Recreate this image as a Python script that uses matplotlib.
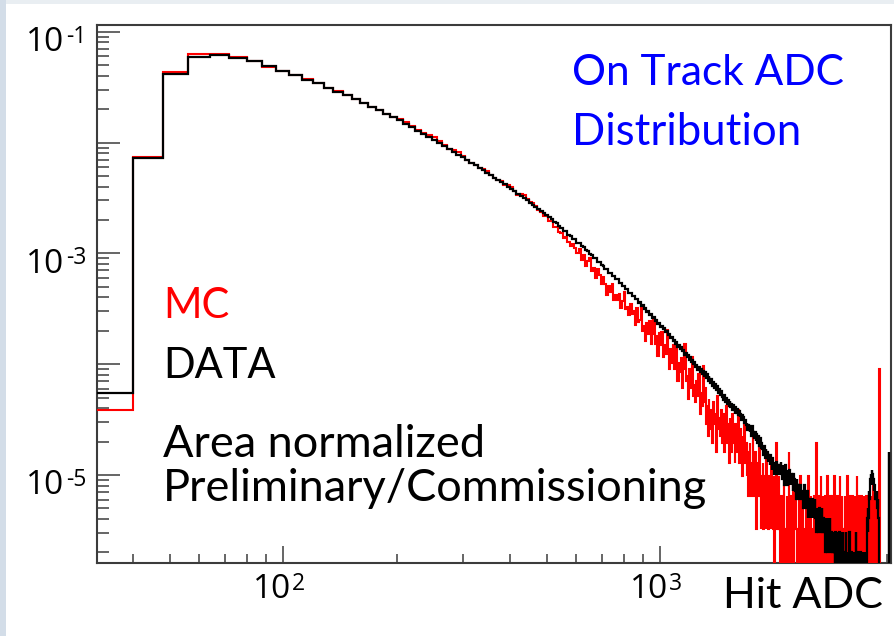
import numpy as np
import matplotlib
matplotlib.use("Agg")
import matplotlib.pyplot as plt
from matplotlib import transforms
from matplotlib.patches import Rectangle
from matplotlib.ticker import LogLocator, NullFormatter

# ---------------- histogram binning (ADC counts) ----------------
bin_start = 32
bin_width = 8
x_range = (32, 4096)

# ---------------- DATA: entries per 8-ADC bin ----------------
data_counts_peak = [
    54, 7200, 40600, 58200, 60700, 56600, 53000, 48300, 43550, 39800,
    36400, 34200, 30800, 28380, 26300, 24320, 22460, 20760, 19260, 17940,
    16740, 15590, 14490, 13500, 12620, 11820, 11090, 10420, 9760, 9160,
    8610, 8110, 7650, 7230, 6840, 6480, 6140, 5810, 5510, 5240,
    4980, 4740, 4520, 4310, 4120, 3940, 3750, 3560, 3390, 3240,
    3090, 2950, 2820, 2690, 2580, 2470, 2360, 2270, 2180, 2080,
]
data_counts_falloff = [
    2010, 1880, 1830, 1720, 1680, 1570, 1550, 1440, 1420, 1330,
    1320, 1230, 1215, 1135, 1125, 1050, 1035, 970, 960, 895,
    886, 828, 820, 765, 762, 710, 706, 660, 658, 615,
    612, 574, 572, 535, 533, 500, 498, 466, 464, 434,
    432, 404, 405, 378, 379, 352, 355, 330, 334, 309,
    314, 291, 294, 273, 278, 257, 262, 242, 246, 228,
    233, 215, 219, 203, 207, 191, 195, 179, 183, 169,
    173, 159, 164, 151, 155, 141, 146, 135, 140, 128,
    132, 120, 125, 114, 119, 108, 113, 102, 107, 98,
    103, 92, 97, 88, 93, 84, 89, 80, 85, 77,
]
data_counts_tail = [
    84, 74, 80, 70, 77, 73, 66, 72, 63, 68,
    60, 65, 57, 63, 54, 59, 52, 56, 50, 53,
    47, 52, 45, 49, 43, 47, 41, 46, 40, 43,
    38, 42, 39, 35, 40, 36, 39, 34, 37, 33,
    35, 31, 34, 30, 33, 29, 31, 28,
    29, 25, 28, 27, 24, 26, 22, 27, 23, 24,
    21, 24, 20, 23, 19, 22, 20, 18, 21, 17,
    19, 17, 18, 15, 18, 14, 17, 15, 16, 13,
    15, 14, 12, 15, 13, 11, 14, 12, 13, 10,
    12, 11, 13, 10, 11, 12, 10,
    12, 10, 13, 11, 9, 12, 10, 11, 8, 12,
    10, 9, 11, 8, 10, 9, 11, 8, 9, 10,
    8, 9, 7, 10, 8, 9, 7, 8, 6, 9,
    8, 7, 8, 6, 7, 8, 6, 7, 7, 6,
    7, 5, 8, 6, 6, 7, 5, 6, 7, 4,
    6, 5, 6, 4, 5, 6, 5, 4, 6, 5,
    4, 5, 6, 4, 5, 3, 5, 4, 5, 3,
    4, 5, 3, 4, 4, 3, 5, 3, 4, 3,
    4, 3, 3, 4, 2, 4, 3, 3, 2, 4,
    3, 2, 3, 4, 2, 3, 2, 3, 3, 2,
    3, 2, 3, 2, 1, 3, 2, 3,
    2, 3, 1, 2, 2, 0, 3, 2, 1, 2,
    3, 1, 2, 0, 2, 3, 1, 2, 1, 2,
    2, 1, 3, 0, 2, 1, 2, 1, 0, 2,
    3, 1, 1, 2, 0, 2, 1, 1, 2, 0,
    1, 2, 1, 0, 2, 1, 3, 1, 0, 1,
    2, 1, 0, 2, 1, 1, 0, 2, 1, 1,
    0, 1, 2, 0, 1, 1, 0, 2, 1, 0,
    1,
]
data_counts_endpoint = [
    1, 2, 1, 3, 2, 4, 3, 5, 4, 6,
    7, 6, 8, 9, 8, 10, 9, 11, 9, 10,
    9, 8, 9, 7, 8, 7, 8, 6, 7, 7,
    6, 7, 6, 5, 6, 5, 4,
    0, 0, 0, 0, 0, 0, 0, 0, 0, 0,
    0, 0, 0, 0, 0, 0, 0, 0, 0, 0,
    0, 0, 0, 0, 0, 0, 0, 0, 0, 0,
    0, 16, 0, 0, 0, 0, 0,
]

# ---------------- MC: entries per 8-ADC bin ----------------
mc_counts_peak = [
    12, 2296, 13430, 19400, 19470, 18300, 16670, 14880, 13700, 12520,
    11450, 10750, 9690, 8925, 8270, 7650, 7080, 6510, 6070, 5630,
    5290, 5001, 4739, 4373, 3969, 3754, 3593, 3441, 3193, 2939,
    2708, 2628, 2526, 2342, 2151, 2018, 1950, 1827, 1785, 1714,
    1582, 1476, 1422, 1382, 1283, 1276, 1226, 1120, 1045, 1050,
    1030, 965, 896, 888, 827, 754, 735, 678, 665, 608,
    601, 538, 529, 481, 475, 425, 433, 395, 363, 374, 344,
]
mc_counts_falloff = [
    314, 339, 272, 297, 236, 263, 278, 215, 229, 187,
    224, 198, 162, 189, 163, 131, 158, 139, 162, 118,
    129, 117, 133, 99, 115, 139, 97, 101, 86, 107,
    88, 93, 70, 99, 75, 78, 101, 62, 69, 50,
    73, 58, 76, 47, 58, 79, 47, 56, 37, 59,
    46, 60, 36, 46, 38, 63, 41, 28, 42, 32,
    46, 28, 34, 45, 22, 32, 26, 35, 19, 28,
    47, 22, 24, 15, 28, 19, 23, 36, 16, 20,
    14, 22, 16, 25, 11, 17, 13, 30, 14,
]
mc_counts_tail = [
    19, 9, 13, 7, 15, 10, 8, 12, 6, 14,
    9, 11, 5, 16, 8, 10, 7, 12, 6, 9,
    11, 5, 8, 13, 6, 9, 4, 10, 7, 5,
    11, 6, 8, 4, 9, 5, 7, 12, 4, 6,
    8, 5, 3, 7, 5, 9, 4, 6,
    3, 5, 2, 4, 6, 3, 2, 4, 7, 3,
    2, 5, 3, 1, 4, 2, 3, 6, 2, 1,
    3, 2, 4, 1, 2, 3, 1, 5, 2, 2,
    1, 3, 1, 2, 4, 1, 2, 1, 3, 0,
    2, 1, 6, 1, 2, 1, 3,
    1, 0, 1, 2, 1, 1, 0, 3, 1, 0, 1, 1, 2, 0, 1, 5, 1, 0, 2, 1,
    1, 0, 1, 3, 0, 1, 1, 2, 1, 0, 1, 1, 0, 2, 1, 3, 1, 0, 1, 1,
    2, 1, 0, 1, 0, 1, 2, 1, 1, 0, 3, 1, 1, 0, 1, 2, 0, 1, 1, 1,
    0, 2, 1, 0, 1, 6, 1, 1, 0, 2, 1, 0, 1, 1, 3, 1, 0, 1, 2, 0,
    1, 1, 0, 1, 2, 1, 0, 1, 3, 1, 1, 0, 1, 1, 2, 0, 1, 0, 1, 2,
    1, 1, 0, 3, 1, 0, 1, 2,
    1, 1, 2, 1, 0, 1, 1, 3, 1, 1, 0, 1, 2, 1, 1, 1, 0, 1, 1, 2,
    1, 0, 1, 1, 1, 3, 1, 0, 1, 1, 2, 1, 1, 0, 1, 1, 1, 2, 0, 1,
    1, 1, 0, 2, 1, 1, 1, 0, 1, 3, 1, 1, 2, 1, 0, 1, 1, 1, 0, 1,
    2, 1, 1, 0, 1, 1, 2, 1, 1, 1, 0, 1, 1, 2, 1, 0, 1, 1, 1, 2,
    1, 1, 0, 1, 1, 2, 1, 1, 0, 1, 1, 1, 3, 1, 1, 0, 1, 2, 1, 1,
    1, 0, 1, 1, 2, 1, 1, 1, 0, 1,
]
mc_counts_endpoint = [28] + [0] * 34

# ---------------- axis ticks and labels ----------------
y_label_exponents = [-1, -3, -5]
x_label_exponents = [2, 3]
y_major_exponents = [-1, -2, -3, -4, -5]

title_lines = ["On Track ADC", "Distribution"]
legend_mc = "MC"
legend_data = "DATA"
note_lines = ["Area normalized", "Preliminary/Commissioning"]
x_title = "Hit ADC"


def area_normalized(counts):
    c = np.asarray(counts, dtype=float)
    return c / c.sum()


def bin_edges(n):
    return bin_start + bin_width * np.arange(n + 1)


data_vals = area_normalized(data_counts_peak + data_counts_falloff
                            + data_counts_tail + data_counts_endpoint)
mc_vals = area_normalized(mc_counts_peak + mc_counts_falloff
                          + mc_counts_tail + mc_counts_endpoint)

# empty bins fall off the bottom of the log axis
floor = 1e-12
data_plot = np.where(data_vals > 0, data_vals, floor)
mc_plot = np.where(mc_vals > 0, mc_vals, floor)

plt.rcParams['font.family'] = ['Lato', 'DejaVu Sans']

W, H = 894, 636
fig = plt.figure(figsize=(W / 100, H / 100), dpi=100)
fig.patch.set_facecolor('#e9eef2')
fig.add_artist(Rectangle((0, 0), 6 / W, 1, transform=fig.transFigure,
                         facecolor='#d3dde8', edgecolor='none', zorder=-5))
fig.add_artist(Rectangle((6 / W, 0), 1, 1 - 4 / H, transform=fig.transFigure,
                         facecolor='white', edgecolor='none', zorder=-4))

ax_left, ax_right, ax_top, ax_bottom = 96.5, 891.0, 24.7, 563.3
ax = fig.add_axes([ax_left / W, 1 - ax_bottom / H,
                   (ax_right - ax_left) / W, (ax_bottom - ax_top) / H])
ax.set_facecolor('white')
ax.set_xscale('log')
ax.set_yscale('log')
ax.set_xlim(*x_range)
ax.set_ylim(10 ** -5.797, 10 ** -0.937)

frame_color = '#3c3c3c'
for side, sp in ax.spines.items():
    sp.set_color(frame_color)
    sp.set_linewidth(1.5)

ax.set_yticks([10.0 ** e for e in y_major_exponents])
ax.yaxis.set_minor_locator(LogLocator(base=10, subs=np.arange(2, 10)))
ax.set_xticks([10.0 ** e for e in x_label_exponents])
ax.xaxis.set_minor_locator(LogLocator(base=10, subs=np.arange(2, 10)))
ax.xaxis.set_minor_formatter(NullFormatter())
ax.yaxis.set_minor_formatter(NullFormatter())
ax.tick_params(which='both', direction='in', labelleft=False,
               labelbottom=False, top=False, right=False, color=frame_color,
               width=1.1)
ax.tick_params(axis='y', which='major', length=16.5)
ax.tick_params(axis='y', which='minor', length=8.6)
ax.tick_params(axis='x', which='major', length=12)
ax.tick_params(axis='x', which='minor', length=6.5)

ax.stairs(mc_plot, bin_edges(len(mc_plot)), baseline=None,
          color='#ff0000', lw=1.5, zorder=3)
ax.stairs(data_plot, bin_edges(len(data_plot)), baseline=None,
          color='#000000', lw=1.6, zorder=4)

# power-of-ten labels: "10" with a raised exponent
px = fig.dpi_scale_trans
label_font = 'Open Sans'
base_size, exp_size = 24, 16.5


def shifted(trans, dx, dy):
    return trans + transforms.ScaledTranslation(dx / 100, -dy / 100, px)


ytrans = transforms.blended_transform_factory(fig.transFigure, ax.transData)
for e in y_label_exponents:
    ax.text(64 / W, 10.0 ** e, "10", transform=shifted(ytrans, 0, 19.5),
            ha='right', va='baseline', fontsize=base_size, family=label_font,
            clip_on=False)
    ax.text(66 / W, 10.0 ** e, f"-{abs(e)}", transform=shifted(ytrans, 0, 11),
            ha='left', va='baseline', fontsize=exp_size, family=label_font,
            clip_on=False)

xtrans = transforms.blended_transform_factory(ax.transData, fig.transFigure)
for e in x_label_exponents:
    ax.text(10.0 ** e, 1 - 598.5 / H, "10", transform=shifted(xtrans, 8, 0),
            ha='right', va='baseline', fontsize=base_size, family=label_font,
            clip_on=False)
    ax.text(10.0 ** e, 1 - 590 / H, f"{e}", transform=shifted(xtrans, 9, 0),
            ha='left', va='baseline', fontsize=exp_size, family=label_font,
            clip_on=False)


def place(text, x, y, size, color='black'):
    fig.text(x / W, 1 - y / H, text, ha='left', va='baseline',
             fontsize=size, color=color)


place(title_lines[0], 572, 85, 30.5, color='#0000ff')
place(title_lines[1], 572, 145, 31.5, color='#0000ff')
place(legend_mc, 163, 318, 30, color='#ff0000')
place(legend_data, 163, 378, 30)
place(note_lines[0], 163, 457, 32.5)
place(note_lines[1], 163, 501, 32.5)

ax.set_xlabel(x_title, fontsize=31, color='black')
ax.xaxis.set_label_coords((883 - ax_left) / (ax_right - ax_left),
                          -(608 - ax_bottom) / (ax_bottom - ax_top))
ax.xaxis.label.set_ha('right')
ax.xaxis.label.set_va('baseline')

fig.savefig('out.png', dpi=100, facecolor=fig.get_facecolor())
